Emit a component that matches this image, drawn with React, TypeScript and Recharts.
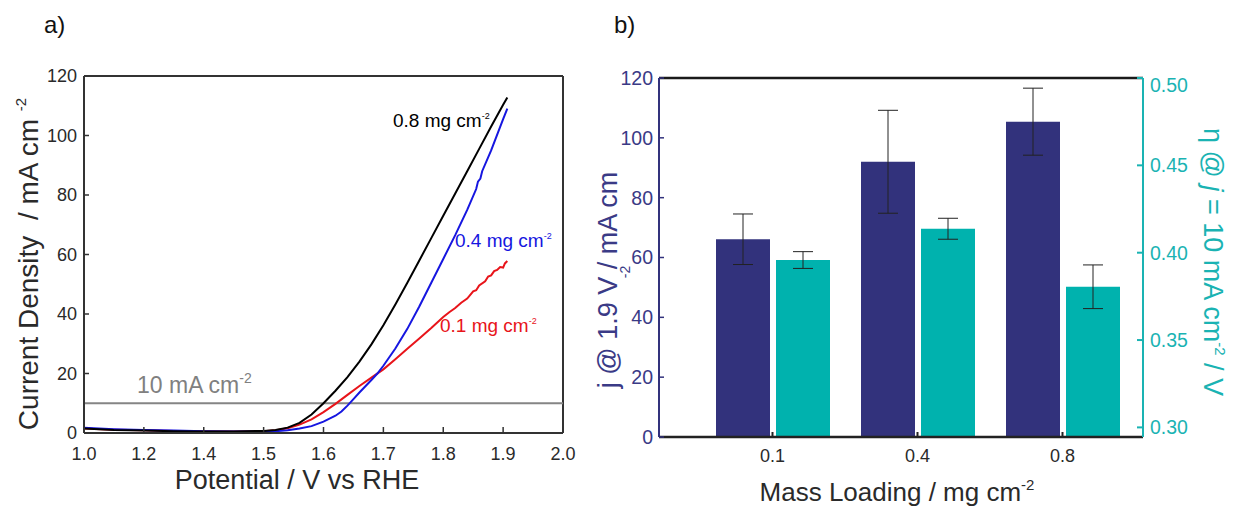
import React from 'react';
import { LineChart, Line, XAxis, YAxis, ReferenceLine, BarChart, Bar, ErrorBar } from 'recharts';

// ---------- Panel a data ----------
const V_TICKS = [1.2, 1.3, 1.4, 1.5, 1.6, 1.7, 1.8, 1.9, 2.0];
const V_TICK_LABELS = ['1.0', '1.2', '1.4', '1.5', '1.6', '1.7', '1.8', '1.9', '2.0'];
const J_TICKS = [0, 20, 40, 60, 80, 100, 120];

const POT_08 = [1.2, 1.25, 1.3, 1.35, 1.4, 1.45, 1.5, 1.52, 1.54, 1.56, 1.58, 1.6, 1.62, 1.64, 1.66, 1.68, 1.7, 1.72, 1.74, 1.76, 1.78, 1.8, 1.82, 1.84, 1.86, 1.88, 1.9, 1.907];
const CUR_08 = [1.5, 1.0, 0.8, 0.6, 0.5, 0.5, 0.7, 1.0, 1.8, 3.4, 6.2, 10.0, 14.2, 18.8, 24.0, 29.8, 36.2, 43.2, 50.5, 58.0, 65.5, 73.0, 80.5, 88.0, 95.5, 103.0, 110.3, 112.8];

const POT_04 = [1.2, 1.25, 1.3, 1.35, 1.4, 1.45, 1.5, 1.52, 1.54, 1.56, 1.58, 1.6, 1.61, 1.62, 1.63, 1.64, 1.65, 1.66, 1.67, 1.68, 1.69, 1.7, 1.72, 1.74, 1.76, 1.78, 1.8, 1.82, 1.84, 1.855, 1.858, 1.862, 1.865, 1.88, 1.9, 1.907];
const CUR_04 = [1.8, 1.3, 1.0, 0.8, 0.6, 0.5, 0.5, 0.6, 0.9, 1.5, 2.3, 3.8, 4.8, 5.8, 7.2, 9.2, 11.4, 13.6, 15.7, 17.8, 20.0, 22.6, 28.4, 35.0, 42.5, 50.5, 58.5, 66.5, 75.0, 82.0, 84.5, 85.5, 88.0, 95.0, 105.5, 109.0];

const POT_01 = [1.2, 1.25, 1.3, 1.35, 1.4, 1.45, 1.5, 1.52, 1.54, 1.56, 1.58, 1.6, 1.62, 1.64, 1.66, 1.68, 1.7, 1.72, 1.74, 1.76, 1.78, 1.8, 1.81, 1.82, 1.83, 1.84, 1.85, 1.855, 1.86, 1.87, 1.875, 1.88, 1.885, 1.89, 1.895, 1.9, 1.903, 1.907];
const CUR_01 = [1.5, 1.1, 0.9, 0.7, 0.6, 0.5, 0.6, 0.9, 1.6, 2.8, 4.6, 7.0, 9.8, 12.8, 15.8, 18.6, 21.4, 24.8, 28.3, 31.8, 35.3, 39.0, 40.6, 42.0, 43.8, 45.2, 47.6, 48.0, 49.6, 51.0, 52.6, 53.0, 54.4, 54.8, 55.8, 55.6, 57.0, 57.8];

// ---------- Panel b data ----------
const LOADINGS = ['0.1', '0.4', '0.8'];
const J_AT_19V = [66.1, 92.0, 105.4];
const J_ERR = [8.45, 17.2, 11.2];
const ETA_AT_10 = [0.3958, 0.4137, 0.3805];
const ETA_ERR = [0.0048, 0.006, 0.0125];
const JB_TICKS = [0, 20, 40, 60, 80, 100, 120];
const ETA_TICKS = [0.3, 0.35, 0.4, 0.45, 0.5];

const toSeries = (v: number[], j: number[]) => v.map((x, i) => ({ v: x, j: j[i] }));
const S08 = toSeries(POT_08, CUR_08);
const S04 = toSeries(POT_04, CUR_04);
const S01 = toSeries(POT_01, CUR_01);
const BAR_DATA = LOADINGS.map((l, i) => ({
  loading: l,
  j: J_AT_19V[i],
  jErr: J_ERR[i],
  eta: ETA_AT_10[i],
  etaErr: ETA_ERR[i],
}));

const FONT = '"Liberation Sans", Arial, Helvetica, sans-serif';
const NAVY = '#32327c';
const NAVY_TXT = '#3a3a86';
const TEAL = '#00b2ae';
const TEAL_TXT = '#1ab3b3';
const DARK = '#2a2a2a';

const vLabel = (v: number) => {
  const i = V_TICKS.findIndex((t) => Math.abs(t - v) < 1e-6);
  return i >= 0 ? V_TICK_LABELS[i] : '';
};

const RightTick = (props: any) => {
  const { x, y, payload } = props;
  const shift = Math.abs(payload.value - 0.5) < 1e-9 ? 7 : 0;
  return (
    <text x={x} y={y + shift} dy="0.355em" textAnchor="start" fill={TEAL_TXT} fontSize={19.5} fontFamily={FONT}>
      {Number(payload.value).toFixed(2)}
    </text>
  );
};

export default function App() {
  return (
    <div style={{ position: 'absolute', left: 0, top: 0, width: 1243, height: 508, background: '#fff', overflow: 'hidden', fontFamily: FONT }}>
      <div style={{ position: 'absolute', left: 0, top: 0 }}>
        <LineChart width={600} height={508} margin={{ top: 76, right: 37, bottom: 45, left: 0 }}>
          <XAxis
            type="number"
            dataKey="v"
            domain={[1.2, 2.0]}
            ticks={V_TICKS}
            interval={0}
            tickFormatter={vLabel}
            height={30}
            tickSize={-6}
            tickMargin={20}
            allowDataOverflow
            axisLine={{ stroke: '#333', strokeWidth: 2 }}
            tickLine={{ stroke: '#333', strokeWidth: 1.5 }}
            tick={{ fill: DARK, fontSize: 18, fontFamily: FONT }}
          />
          <YAxis
            type="number"
            domain={[0, 120]}
            ticks={J_TICKS}
            interval={0}
            width={84}
            tickSize={-5}
            tickMargin={12}
            allowDataOverflow
            axisLine={{ stroke: '#333', strokeWidth: 2 }}
            tickLine={{ stroke: '#333', strokeWidth: 1.5 }}
            tick={{ fill: DARK, fontSize: 18, fontFamily: FONT }}
          />
          <ReferenceLine y={120} stroke="#333" strokeWidth={2} ifOverflow="visible" />
          <ReferenceLine x={2.0} stroke="#333" strokeWidth={2} ifOverflow="visible" />
          <ReferenceLine y={10} stroke="#858585" strokeWidth={2} />
          <Line data={S01} dataKey="j" type="linear" stroke="#e8141a" strokeWidth={2} dot={false} isAnimationActive={false} />
          <Line data={S04} dataKey="j" type="linear" stroke="#1616e0" strokeWidth={2} dot={false} isAnimationActive={false} />
          <Line data={S08} dataKey="j" type="linear" stroke="#000000" strokeWidth={2} dot={false} isAnimationActive={false} />
        </LineChart>
      </div>

      <div style={{ position: 'absolute', left: 600, top: 0 }}>
        <BarChart width={643} height={508} data={BAR_DATA} margin={{ top: 78, right: 0, bottom: 41, left: 0 }} barGap={6} barSize={54}>
          <XAxis
            dataKey="loading"
            height={30}
            padding={{ left: 41, right: 8 }}
            tickSize={-5}
            tickMargin={17}
            axisLine={{ stroke: '#222', strokeWidth: 2.5 }}
            tickLine={{ stroke: '#222', strokeWidth: 2 }}
            tick={{ fill: DARK, fontSize: 18, fontFamily: FONT }}
          />
          <YAxis
            yAxisId="left"
            orientation="left"
            type="number"
            domain={[0, 120]}
            ticks={JB_TICKS}
            interval={0}
            width={59}
            tickSize={-5}
            tickMargin={11}
            axisLine={{ stroke: NAVY, strokeWidth: 2 }}
            tickLine={{ stroke: NAVY, strokeWidth: 1.5 }}
            tick={{ fill: NAVY_TXT, fontSize: 19.5, fontFamily: FONT }}
          />
          <YAxis
            yAxisId="right"
            orientation="right"
            type="number"
            domain={[0.2945, 0.5]}
            ticks={ETA_TICKS}
            interval={0}
            width={100}
            tickSize={-6}
            tickMargin={13}
            allowDataOverflow
            axisLine={{ stroke: TEAL_TXT, strokeWidth: 2 }}
            tickLine={{ stroke: TEAL_TXT, strokeWidth: 2 }}
            tick={<RightTick />}
          />
          <ReferenceLine yAxisId="left" y={120} stroke="#1a1a1a" strokeWidth={2.5} ifOverflow="visible" />
          <Bar yAxisId="left" dataKey="j" fill={NAVY} isAnimationActive={false}>
            <ErrorBar dataKey="jErr" width={10} stroke="#222" strokeWidth={1} direction="y" />
          </Bar>
          <Bar yAxisId="right" dataKey="eta" fill={TEAL} isAnimationActive={false}>
            <ErrorBar dataKey="etaErr" width={10} stroke="#222" strokeWidth={1} direction="y" />
          </Bar>
        </BarChart>
      </div>

      <svg width={1243} height={508} style={{ position: 'absolute', left: 0, top: 0, pointerEvents: 'none' }} fontFamily={FONT}>
        <text x={44} y={33} fontSize={24} fill="#111">a)</text>
        <text x={614} y={33} fontSize={24} fill="#111">b)</text>

        <text x={137} y={393} fontSize={23} fill="#808080">
          10 mA cm<tspan dy={-10} fontSize={14}>-2</tspan>
        </text>
        <text x={393} y={127} fontSize={19} fill="#000">
          0.8 mg cm<tspan dy={-8} fontSize={9}>-2</tspan>
        </text>
        <text x={455} y={247} fontSize={19} fill="#1616e0">
          0.4 mg cm<tspan dy={-8} fontSize={9}>-2</tspan>
        </text>
        <text x={440} y={332} fontSize={19} fill="#e8141a">
          0.1 mg cm<tspan dy={-8} fontSize={9}>-2</tspan>
        </text>

        <text transform="translate(38,264) rotate(-90)" textAnchor="middle" fontSize={28} fill={DARK}>
          Current Density{'\u00a0\u00a0'}/ mA cm{'\u00a0'}<tspan dy={-12} fontSize={15}>-2</tspan>
        </text>
        <text x={297} y={489} textAnchor="middle" fontSize={27} fill={DARK}>
          Potential / V vs RHE
        </text>

        <text x={897} y={501} textAnchor="middle" fontSize={26} fill={DARK}>
          Mass Loading / mg cm<tspan dy={-11} fontSize={15}>-2</tspan>
        </text>
        <text transform="translate(617,280) rotate(-90)" textAnchor="middle" fontSize={27} fill={NAVY_TXT}>
          j @ 1.9 V / mA cm
        </text>
        <text transform="translate(630,272) rotate(-90)" textAnchor="middle" fontSize={14} fill={NAVY_TXT}>
          -2
        </text>
        <text transform="translate(1204,262) rotate(90)" textAnchor="middle" fontSize={27} fill={TEAL_TXT}>
          η @ <tspan fontStyle="italic">j</tspan> = 10 mA cm<tspan dy={-11} fontSize={15}>-2</tspan>
          <tspan dy={11}> / V</tspan>
        </text>
      </svg>
    </div>
  );
}
